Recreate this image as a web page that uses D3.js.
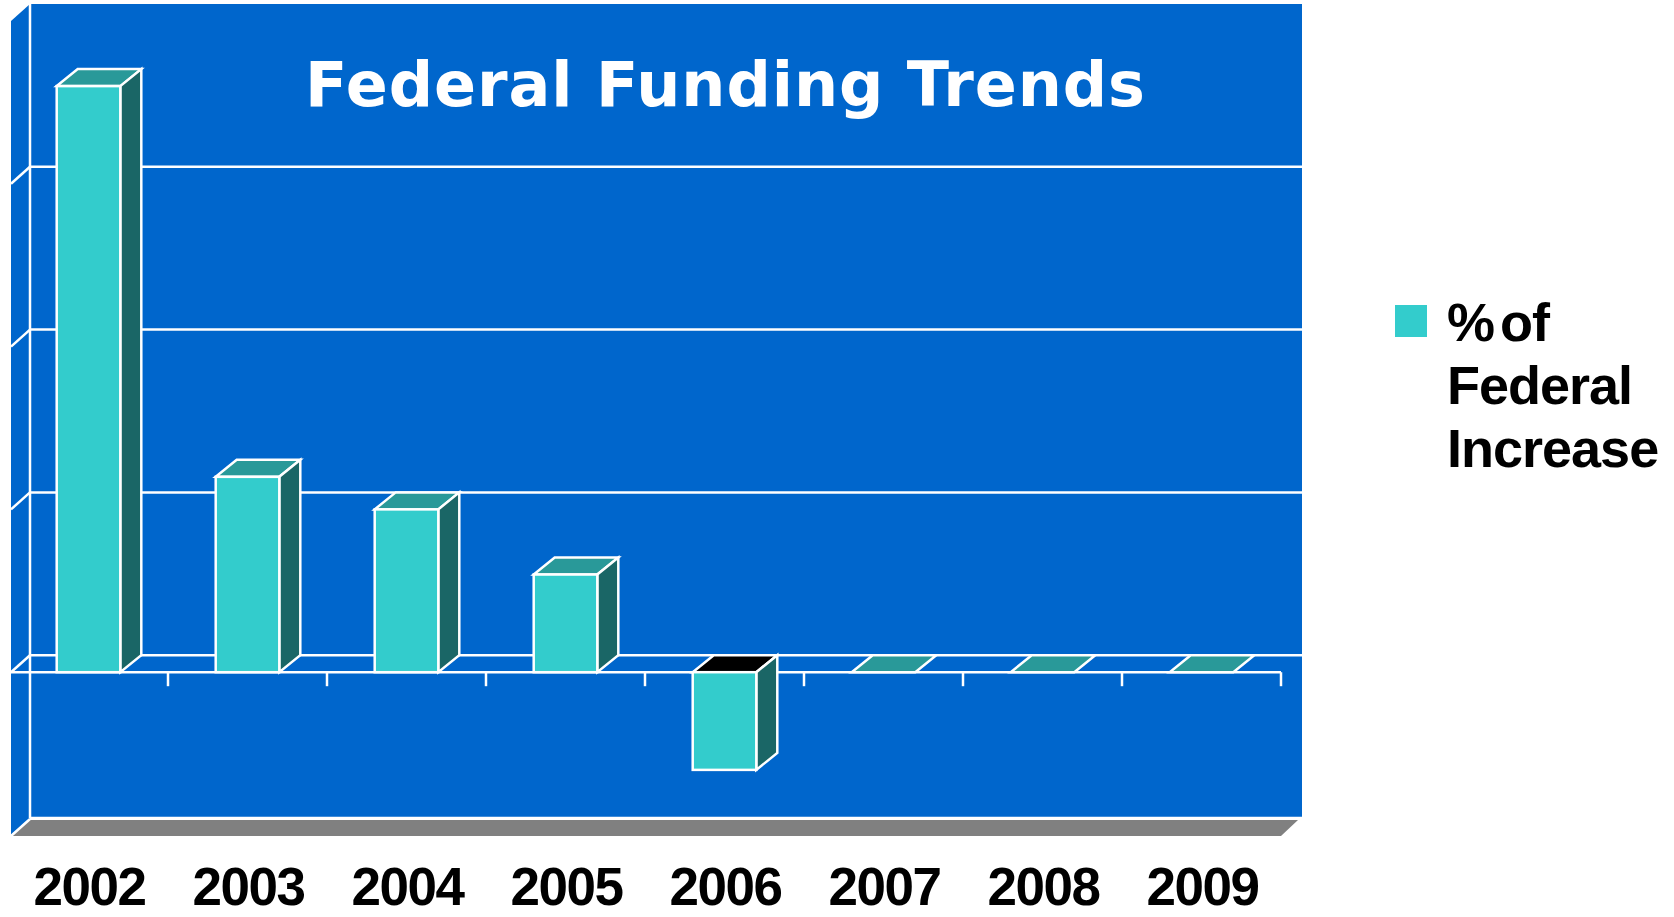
<!DOCTYPE html>
<html>
<head>
<meta charset="utf-8">
<script src="https://cdn.jsdelivr.net/npm/d3@7"></script>
<style>
  body { margin: 0; background: #fff; }
</style>
</head>
<body>
<div id="chart"></div>
<script>
// Chart data
const years = ["2002", "2003", "2004", "2005", "2006", "2007", "2008", "2009"];
const federalIncrease = [18, 6, 5, 3, -3, 0, 0, 0];
const valueTicks = [-5, 0, 5, 10, 15, 20];
const seriesName = ["% of", "Federal", "Increase"];

const width = 1674;
const height = 917;

// 3D depth offset of the plot (back plane relative to front plane)
const depthX = 21;
const depthY = 17;

const colours = {
  wall: "#0066CC",
  floor: "#808080",
  front: "#33CCCC",
  side: "#1A6666",
  top: "#299999",
  inside: "#000000",
};

const svg = d3
  .select("#chart")
  .append("svg")
  .attr("width", width)
  .attr("height", height)
  .style("display", "block");

// Scales - x is the front plane, y is the back wall
const x = d3.scaleBand().domain(years).range([9, 1281]);
const yBack = d3.scaleLinear().domain([-5, 20]).range([818, 4]);
const yFront = (v) => yBack(v) + depthY;
const barWidth = x.bandwidth() * 0.4;

const poly = (pts) => pts.map((p) => p.join(",")).join(" ");

const xL = x.range()[0];
const xR = x.range()[1];
const vMin = yBack.domain()[0];
const vMax = yBack.domain()[1];

// Back wall
svg
  .append("rect")
  .attr("x", xL + depthX)
  .attr("y", yBack(vMax))
  .attr("width", xR - xL)
  .attr("height", yBack(vMin) - yBack(vMax))
  .attr("fill", colours.wall);

// Side wall
svg
  .append("polygon")
  .attr(
    "points",
    poly([
      [xL + 2, yFront(vMax)],
      [xL + depthX, yBack(vMax)],
      [xL + depthX, yBack(vMin)],
      [xL + 2, yFront(vMin)],
    ])
  )
  .attr("fill", colours.wall);

// Floor strip at the bottom
svg
  .append("polygon")
  .attr(
    "points",
    poly([
      [xL + 2, yFront(vMin) + 1],
      [xR, yFront(vMin) + 1],
      [xR + depthX - 4, yBack(vMin) + 2],
      [xL + depthX, yBack(vMin) + 2],
    ])
  )
  .attr("fill", colours.floor);

// Gridlines on back wall and side wall
const grid = svg.append("g").attr("stroke", "white").attr("stroke-width", 2.5);
valueTicks
  .filter((v) => v > vMin && v < vMax)
  .forEach((v) => {
    grid
      .append("line")
      .attr("x1", xL + depthX)
      .attr("x2", xR + depthX)
      .attr("y1", yBack(v))
      .attr("y2", yBack(v));
    grid
      .append("line")
      .attr("x1", xL + 2)
      .attr("x2", xL + depthX)
      .attr("y1", yFront(v))
      .attr("y2", yBack(v));
  });

// Wall edges
grid
  .append("line")
  .attr("x1", xL + depthX)
  .attr("x2", xL + depthX)
  .attr("y1", yBack(vMax))
  .attr("y2", yBack(vMin));
grid
  .append("line")
  .attr("x1", xL + depthX)
  .attr("x2", xR + depthX)
  .attr("y1", yBack(vMin))
  .attr("y2", yBack(vMin));
grid
  .append("line")
  .attr("x1", xL + 2)
  .attr("x2", xL + depthX)
  .attr("y1", yFront(vMin) + 1)
  .attr("y2", yBack(vMin) + 1);

// Category axis at zero, with ticks between categories
grid
  .append("line")
  .attr("x1", xL + 2)
  .attr("x2", xR)
  .attr("y1", yFront(0))
  .attr("y2", yFront(0));
years.forEach((yr) => {
  const tx = x(yr) + x.bandwidth();
  grid
    .append("line")
    .attr("x1", tx)
    .attr("x2", tx)
    .attr("y1", yFront(0))
    .attr("y2", yFront(0) + 14);
});

// Bars
const bars = svg
  .append("g")
  .attr("stroke", "white")
  .attr("stroke-width", 2.5)
  .attr("stroke-linejoin", "miter");

years.forEach((yr, i) => {
  const v = federalIncrease[i];
  const x0 = x(yr) + (x.bandwidth() - barWidth) / 2;
  const x1 = x0 + barWidth;
  const yTop = yFront(Math.max(v, 0));
  const yBot = yFront(Math.min(v, 0));

  // Top face (black inside face for negative bars)
  bars
    .append("polygon")
    .attr(
      "points",
      poly([
        [x0, yTop],
        [x1, yTop],
        [x1 + depthX, yTop - depthY],
        [x0 + depthX, yTop - depthY],
      ])
    )
    .attr("fill", v < 0 ? colours.inside : colours.top);

  if (v === 0) return;

  // Side face
  bars
    .append("polygon")
    .attr(
      "points",
      poly([
        [x1, yTop],
        [x1 + depthX, yTop - depthY],
        [x1 + depthX, yBot - depthY],
        [x1, yBot],
      ])
    )
    .attr("fill", colours.side);

  // Front face
  bars
    .append("rect")
    .attr("x", x0)
    .attr("y", yTop)
    .attr("width", barWidth)
    .attr("height", yBot - yTop)
    .attr("fill", colours.front);
});

// Title
svg
  .append("text")
  .attr("x", 305)
  .attr("y", 106)
  .attr("fill", "white")
  .attr("textLength", 840)
  .attr("lengthAdjust", "spacing")
  .style("font-family", "'DejaVu Sans', Verdana, sans-serif")
  .style("font-weight", "bold")
  .style("font-size", "62px")
  .text("Federal Funding Trends");

// Category labels
svg
  .append("g")
  .selectAll("text")
  .data(years)
  .join("text")
  .attr("x", (d) => x(d) + x.bandwidth() / 2 + 1)
  .attr("y", 905)
  .attr("text-anchor", "middle")
  .style("font-family", "'Liberation Sans', Arial, sans-serif")
  .style("font-weight", "bold")
  .style("font-size", "53px")
  .style("letter-spacing", "-1.5px")
  .text((d) => d);

// Legend
const legend = svg.append("g").attr("transform", "translate(1395, 305)");
legend
  .append("rect")
  .attr("width", 32)
  .attr("height", 32)
  .attr("fill", colours.front);
legend
  .append("g")
  .selectAll("text")
  .data(seriesName)
  .join("text")
  .attr("x", 52)
  .attr("y", (d, i) => 36 + i * 63)
  .attr("word-spacing", "-8px")
  .style("font-family", "'Liberation Sans', Arial, sans-serif")
  .style("font-weight", "bold")
  .style("font-size", "54px")
  .style("letter-spacing", "-1px")
  .text((d) => d);
</script>
</body>
</html>
